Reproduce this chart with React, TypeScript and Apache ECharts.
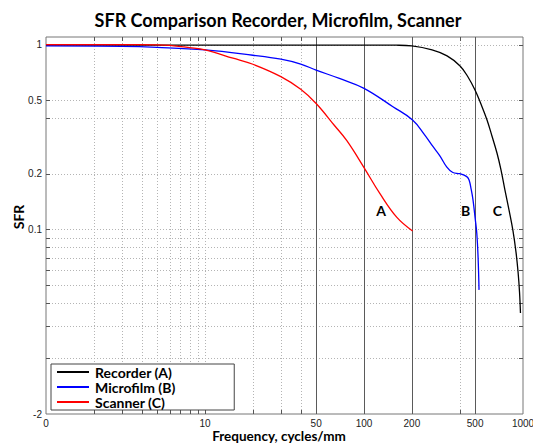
import React, { useEffect, useRef } from 'react';
import * as echarts from 'echarts';

const FREQ_MIN = 1;
const FREQ_MAX = 1000;
const SFR_MIN = 0.01;
const SFR_MAX = 1.1;

const freqTickValues = [1, 10, 50, 100, 200, 500, 1000];
const freqTickLabels = ['0', '10', '50', '100', '200', '500', '1000'];
const freqMajorLines = [50, 100, 200, 500];
const freqMinorLines = [2, 3, 4, 5, 6, 7, 8, 9, 10, 20, 30, 40, 400];
const sfrTickValues = [1, 0.5, 0.2, 0.1, 0.01];
const sfrTickLabels = ['1', '0.5', '0.2', '0.1', '-2'];
const sfrGridLines = [1, 0.5, 0.4, 0.2, 0.1, 0.09, 0.08, 0.07, 0.06, 0.05, 0.04, 0.03, 0.02];

const recorderFreq = [1, 10, 100, 160, 200, 268, 333, 402, 451, 499, 544, 594, 638, 686, 727, 770, 817, 865, 904, 931, 951, 964];
const recorderSfr = [0.995, 0.995, 0.995, 0.993, 0.984, 0.936, 0.869, 0.767, 0.668, 0.568, 0.477, 0.391, 0.32, 0.259, 0.21, 0.163, 0.127, 0.098, 0.075, 0.0587, 0.0457, 0.0352];

const microfilmFreq = [1, 3, 5, 10, 20, 30, 40, 50, 70, 100, 152, 202, 240, 272, 300, 331, 362, 400, 443, 458, 472, 485, 500, 512, 522, 529];
const microfilmSfr = [0.985, 0.978, 0.966, 0.936, 0.876, 0.834, 0.785, 0.728, 0.656, 0.58, 0.461, 0.391, 0.326, 0.28, 0.25, 0.218, 0.203, 0.2, 0.193, 0.185, 0.165, 0.144, 0.115, 0.0954, 0.07, 0.047];

const scannerFreq = [1, 3, 5, 6, 8, 10, 15, 20, 30, 40, 50, 65, 78, 100, 126, 161, 202];
const scannerSfr = [1.0, 1.0, 0.998, 0.99, 0.963, 0.936, 0.845, 0.783, 0.671, 0.573, 0.48, 0.366, 0.302, 0.216, 0.156, 0.116, 0.098];

const seriesNames = ['Recorder (A)', 'Microfilm (B)', 'Scanner (C)'];
const seriesColors = ['#000000', '#0000ff', '#ff0000'];

const annotationLabels = ['A', 'B', 'C'];
const annotationFreq = [128, 436, 689];
const annotationSfr = [0.126, 0.126, 0.126];

const TITLE = 'SFR Comparison Recorder, Microfilm, Scanner';
const X_NAME = 'Frequency, cycles/mm';
const Y_NAME = 'SFR';

const BOLD_FONT = 'Lato, "Open Sans", sans-serif';
const TICK_FONT = '"Liberation Sans", Arial, sans-serif';

const crisp = (v: number) => Math.round(v) + 0.5;

const zip = (a: number[], b: number[]) => a.map((v, i) => [v, b[i]]);

export default function App() {
  const ref = useRef<HTMLDivElement>(null);

  useEffect(() => {
    if (!ref.current) return;
    const chart = echarts.init(ref.current, undefined, { renderer: 'svg' });

    const vLines = (values: number[], major: boolean) => ({
      type: 'custom',
      silent: true,
      z: 1,
      encode: { x: 0, y: 1 },
      data: values.map((v) => [v, SFR_MIN]),
      renderItem: (_p: any, api: any) => {
        const v = api.value(0);
        const top = api.coord([v, SFR_MAX]);
        const bot = api.coord([v, SFR_MIN]);
        const x = crisp(top[0]);
        const children: any[] = [
          {
            type: 'line',
            shape: { x1: x, y1: top[1], x2: x, y2: bot[1] },
            style: major
              ? { stroke: '#5a5a5a', lineWidth: 1 }
              : { stroke: '#b4b4b4', lineWidth: 1, lineDash: [1, 2] },
          },
        ];
        if (!major) {
          children.push(
            { type: 'line', shape: { x1: x, y1: bot[1], x2: x, y2: bot[1] - 4 }, style: { stroke: '#555', lineWidth: 1 } },
            { type: 'line', shape: { x1: x, y1: top[1], x2: x, y2: top[1] + 4 }, style: { stroke: '#555', lineWidth: 1 } }
          );
        }
        return { type: 'group', children };
      },
    });

    const hLines = {
      type: 'custom',
      silent: true,
      z: 1,
      encode: { x: 0, y: 1 },
      data: sfrGridLines.map((v) => [FREQ_MIN, v]),
      renderItem: (_p: any, api: any) => {
        const v = api.value(1);
        const l = api.coord([FREQ_MIN, v]);
        const r = api.coord([FREQ_MAX, v]);
        const y = crisp(l[1]);
        return {
          type: 'group',
          children: [
            { type: 'line', shape: { x1: l[0], y1: y, x2: r[0], y2: y }, style: { stroke: '#b4b4b4', lineWidth: 1, lineDash: [1, 2] } },
            { type: 'line', shape: { x1: l[0], y1: y, x2: l[0] + 4, y2: y }, style: { stroke: '#555', lineWidth: 1 } },
            { type: 'line', shape: { x1: r[0], y1: y, x2: r[0] - 4, y2: y }, style: { stroke: '#555', lineWidth: 1 } },
          ],
        };
      },
    };

    const xLabels = {
      type: 'custom',
      silent: true,
      z: 5,
      encode: { x: 0, y: 1 },
      data: freqTickValues.map((v, i) => [v, SFR_MIN, i]),
      renderItem: (_p: any, api: any) => {
        const p = api.coord([api.value(0), SFR_MIN]);
        return {
          type: 'text',
          x: p[0],
          y: p[1] + 9,
          style: {
            text: freqTickLabels[api.value(2)],
            align: 'center',
            verticalAlign: 'middle',
            font: `10px ${TICK_FONT}`,
            fill: '#222',
          },
        };
      },
    };

    const yLabels = {
      type: 'custom',
      silent: true,
      z: 5,
      encode: { x: 0, y: 1 },
      data: sfrTickValues.map((v, i) => [FREQ_MIN, v, i]),
      renderItem: (_p: any, api: any) => {
        const p = api.coord([FREQ_MIN, api.value(1)]);
        return {
          type: 'text',
          x: p[0] - 4,
          y: p[1],
          style: {
            text: sfrTickLabels[api.value(2)],
            align: 'right',
            verticalAlign: 'middle',
            font: `10px ${TICK_FONT}`,
            fill: '#222',
          },
        };
      },
    };

    const annot = {
      type: 'custom',
      silent: true,
      z: 6,
      encode: { x: 0, y: 1 },
      data: annotationFreq.map((f, i) => [f, annotationSfr[i], i]),
      renderItem: (_p: any, api: any) => {
        const p = api.coord([api.value(0), api.value(1)]);
        return {
          type: 'text',
          x: p[0],
          y: p[1],
          style: {
            text: annotationLabels[api.value(2)],
            align: 'center',
            verticalAlign: 'middle',
            font: `bold 14px ${BOLD_FONT}`,
            fill: '#000',
          },
        };
      },
    };

    const dataSets = [
      zip(recorderFreq, recorderSfr),
      zip(microfilmFreq, microfilmSfr),
      zip(scannerFreq, scannerSfr),
    ];

    const lineSeries = seriesNames.map((name, i) => ({
      name,
      type: 'line',
      data: dataSets[i],
      symbol: 'none',
      showSymbol: false,
      smooth: 0.4,
      z: 4 + i,
      lineStyle: { color: seriesColors[i], width: 1.3 },
      itemStyle: { color: seriesColors[i] },
    }));

    chart.setOption({
      animation: false,
      backgroundColor: '#fff',
      grid: {
        left: 46,
        right: 10,
        top: 37,
        bottom: 32,
        show: true,
        borderColor: '#777',
        borderWidth: 1,
        backgroundColor: '#fff',
      },
      xAxis: {
        type: 'log',
        logBase: 10,
        min: FREQ_MIN,
        max: FREQ_MAX,
        axisLine: { show: false },
        axisTick: { show: false },
        axisLabel: { show: false },
        splitLine: { show: false },
      },
      yAxis: {
        type: 'log',
        logBase: 10,
        min: SFR_MIN,
        max: SFR_MAX,
        axisLine: { show: false },
        axisTick: { show: false },
        axisLabel: { show: false },
        splitLine: { show: false },
      },
      legend: {
        data: seriesNames.map((name, i) => ({ name, icon: 'rect', itemStyle: { color: seriesColors[i] } })),
        orient: 'vertical',
        left: 51,
        top: 364,
        itemWidth: 32,
        itemHeight: 2,
        itemGap: 1,
        padding: [1, 59, 1, 6],
        borderColor: '#444',
        borderWidth: 1,
        backgroundColor: '#fff',
        selectedMode: false,
        textStyle: {
          fontFamily: BOLD_FONT,
          fontWeight: 'bold',
          fontSize: 14,
          lineHeight: 13,
          color: '#000',
          padding: [0, 0, 0, 1],
        },
      },
      graphic: [
        {
          type: 'text',
          x: 278,
          y: 20,
          style: {
            text: TITLE,
            align: 'center',
            verticalAlign: 'middle',
            font: `bold 18px ${BOLD_FONT}`,
            fill: '#000',
          },
        },
        {
          type: 'text',
          x: 279,
          y: 436,
          style: {
            text: X_NAME,
            align: 'center',
            verticalAlign: 'middle',
            font: `bold 13.5px ${BOLD_FONT}`,
            fill: '#000',
          },
        },
        {
          type: 'text',
          x: 18,
          y: 217,
          rotation: Math.PI / 2,
          style: {
            text: Y_NAME,
            align: 'center',
            verticalAlign: 'middle',
            font: `bold 14px ${BOLD_FONT}`,
            fill: '#000',
          },
        },
      ],
      series: [
        vLines(freqMinorLines, false),
        hLines,
        vLines(freqMajorLines, true),
        xLabels,
        yLabels,
        annot,
        ...lineSeries,
      ],
    });

    return () => chart.dispose();
  }, []);

  return <div ref={ref} style={{ width: 533, height: 446, position: 'absolute', left: 0, top: 0 }} />;
}
